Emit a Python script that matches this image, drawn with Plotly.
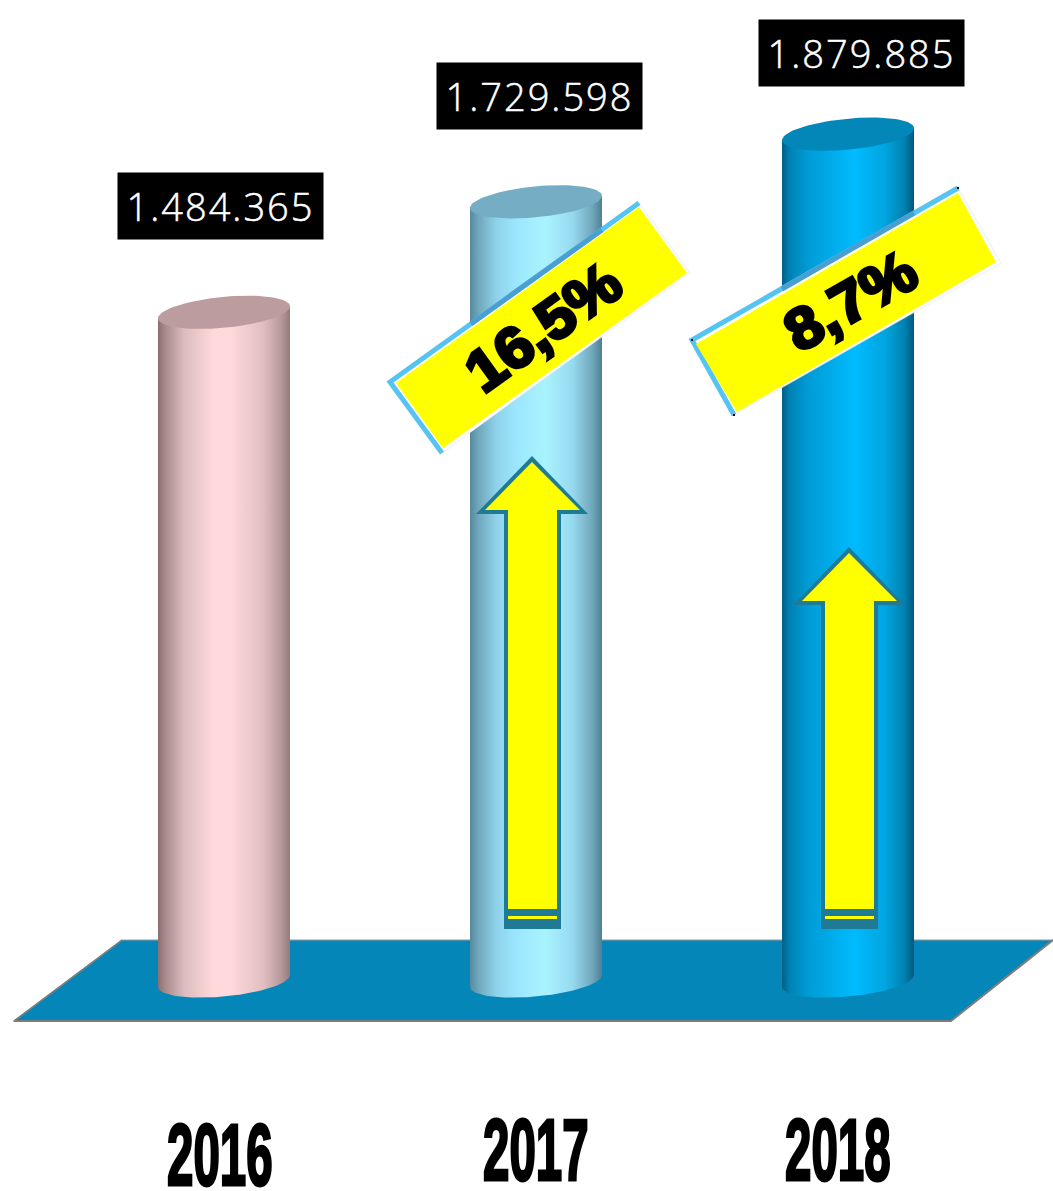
import plotly.graph_objects as go
import numpy as np

W, H = 1053, 1191

years = ["2016", "2017", "2018"]
values = [1484365, 1729598, 1879885]
growth = ["16,5%", "8,7%"]

body_scales = [
    [[0, "#8a6f70"], [0.06, "#ab8c8e"], [0.2, "#dcbcbe"], [0.42, "#ffd9dc"], [0.55, "#ffd9dc"],
     [0.8, "#e0bec0"], [0.93, "#b89a9c"], [1, "#957a7b"]],
    [[0, "#558a9e"], [0.06, "#6ea5ba"], [0.2, "#8fd2ea"], [0.35, "#9ce6fd"], [0.57, "#a9f3ff"],
     [0.78, "#96d9ef"], [0.93, "#6fa5b9"], [1, "#4f7f92"]],
    [[0, "#005f87"], [0.06, "#0082b5"], [0.2, "#009cd6"], [0.35, "#00a9e6"], [0.55, "#00bbff"],
     [0.78, "#00a5e0"], [0.93, "#0080b0"], [1, "#00587c"]],
]
cap_colors = ["#bd9c9f", "#74adc4", "#0387b8"]

PX_PER_UNIT = 4.505e-4  # pixels per unit on the value axis
BASE_PX = 981           # where zero sits
SLOT_PX = 312           # gap between cylinders
FIRST_PX = 224
HALF_W = 66 / SLOT_PX   # half a cylinder, in x units


def fx(x):
    return x / W


def fy(y):
    return 1 - y / H


def path(points, close=True):
    parts = [f"{'M' if i == 0 else 'L'} {fx(x):.5f} {fy(y):.5f}" for i, (x, y) in enumerate(points)]
    return " ".join(parts) + (" Z" if close else "")


def ellipse(i, val, t):
    """Tilted ellipse outline in data units."""
    x = i + HALF_W * np.cos(t)
    y = val + (6 * np.cos(t) + 15.5 * np.sin(t)) / PX_PER_UNIT
    return x, y


fig = go.Figure()

# --- cylinders ---
for i, val in enumerate(values):
    bx, by = ellipse(i, 0, np.linspace(0, -np.pi, 60))
    # the top edge follows the tilt so no corner sticks out past the cap
    tilt = 6 / PX_PER_UNIT
    fig.add_trace(go.Scatter(
        x=[i - HALF_W, i + HALF_W, *bx, i - HALF_W],
        y=[val - tilt, val + tilt, *by, val - tilt],
        mode="lines", line=dict(width=0), fill="toself",
        fillgradient=dict(type="horizontal", colorscale=body_scales[i]),
        name=years[i], hoverinfo="name",
    ))
    cx, cy = ellipse(i, val, np.linspace(0, 2 * np.pi, 90))
    fig.add_trace(go.Scatter(
        x=cx, y=cy, mode="lines", line=dict(width=0), fill="toself",
        fillcolor=cap_colors[i], hoverinfo="skip",
    ))

# --- floor ---
shapes = [
    dict(type="path", xref="paper", yref="paper", layer="below",
         path=path([(14, 1021), (122, 940), (1053, 940), (951, 1021)]),
         fillcolor="#0487b8", line=dict(color="#9a9a9a", width=1.2)),
    dict(type="path", xref="paper", yref="paper", layer="below",
         path=path([(14, 1021), (951, 1021), (1053, 940)], close=False),
         fillcolor="rgba(0,0,0,0)", line=dict(color="#7c7c7c", width=2)),
    dict(type="path", xref="paper", yref="paper", layer="below",
         path=path([(14, 1021), (122, 940)], close=False),
         fillcolor="rgba(0,0,0,0)", line=dict(color="#7c7c7c", width=1.5)),
]


def add_poly(points, color, close=True, line_color=None, line_width=0):
    shapes.append(dict(
        type="path", xref="paper", yref="paper", layer="above",
        path=path(points, close),
        fillcolor=color if close else "rgba(0,0,0,0)",
        line=dict(color=line_color or color, width=line_width),
    ))


# --- arrows ---
for dx, dy in [(-317, -91), (0, 0)]:
    add_poly([(849 + dx, 547 + dy), (905 + dx, 605 + dy), (878 + dx, 605 + dy), (878 + dx, 929),
              (821 + dx, 929), (821 + dx, 605 + dy), (793 + dx, 605 + dy)], "#1f7a96")
    add_poly([(849 + dx, 553 + dy), (897 + dx, 601 + dy), (874 + dx, 601 + dy), (874 + dx, 909),
              (825 + dx, 909), (825 + dx, 601 + dy), (802 + dx, 601 + dy)], "#ffff00")
    add_poly([(825 + dx, 916), (874 + dx, 916), (874 + dx, 919), (825 + dx, 919)], "#ffff00")

# --- tags ---
tags = [
    ([(390, 382), (639, 203), (690, 273), (442, 453)],
     [(396, 383), (639, 207), (687, 273), (443, 448)],
     [(471, 324), (602, 230)]),
    ([(692, 340), (958, 188), (1001, 263), (734, 415)],
     [(696, 344), (958, 193), (996, 262), (737, 412)],
     [(782, 289), (914, 213)]),
]
for outer, inner, over_bar in tags:
    add_poly(outer, "#ffffff", line_color="#cfe8df", line_width=0.6)
    add_poly([outer[3], outer[0], outer[1]], None, close=False, line_color="#55c4f2", line_width=5)
    add_poly(over_bar, None, close=False, line_color="#4a9fd0", line_width=5)
    add_poly(inner, "#ffff00")

# leftover selection dots on the second tag
for x, y in [(692, 340), (958, 188), (734, 415)]:
    add_poly([(x - 1, y - 1), (x + 1, y - 1), (x + 1, y + 1), (x - 1, y + 1)], "#000000")

annotations = []

# --- value labels ---
label_pos = [(220.5, 206), (539.5, 96), (861.5, 53)]
for (x, y), val in zip(label_pos, values):
    annotations.append(dict(
        xref="paper", yref="paper", x=fx(x), y=fy(y), showarrow=False,
        xanchor="center", yanchor="middle", width=205, height=66,
        bgcolor="#000000", borderpad=0,
        text=f"{val:,}".replace(",", "."),
        font=dict(family="Open Sans", size=38, color="#ffffff", weight=300),
    ))

# --- growth tags text ---
tag_text = [(543, 327, -35.7), (850, 300, -29.7)]
for (x, y, angle), txt in zip(tag_text, growth):
    annotations.append(dict(
        xref="paper", yref="paper", x=fx(x), y=fy(y), showarrow=False,
        xanchor="center", yanchor="middle", textangle=angle, text=txt,
        font=dict(family="Liberation Sans", size=58, color="#000000", weight=700),
    ))

# --- year labels ---
year_pos = [(219.5, 1154), (535.5, 1149), (838, 1149)]
for (x, y), yr in zip(year_pos, years):
    annotations.append(dict(
        xref="paper", yref="paper", x=fx(x), y=fy(y), showarrow=False,
        xanchor="center", yanchor="middle", text=yr,
        font=dict(family="Liberation Sans", size=88, color="#000000", weight=700),
    ))

fig.update_layout(
    width=W, height=H, autosize=False,
    margin=dict(l=0, r=0, t=0, b=0),
    paper_bgcolor="#ffffff", plot_bgcolor="#ffffff",
    showlegend=False,
    xaxis=dict(visible=False, range=[-FIRST_PX / SLOT_PX, (W - FIRST_PX) / SLOT_PX]),
    yaxis=dict(visible=False, range=[(BASE_PX - H) / PX_PER_UNIT, BASE_PX / PX_PER_UNIT]),
    shapes=shapes,
    annotations=annotations,
)

# squeeze or widen the texts by hand, svg text has no stretch option
post = """
document.body.style.margin = '0';
function stretch(t, k) {
  var b = t.getBBox(), c = b.x + b.width / 2;
  t.setAttribute('transform', 'translate(' + c + ',0) scale(' + k + ',1) translate(' + (-c) + ',0)');
}
document.querySelectorAll('.annotation-text').forEach(function (t) {
  var s = t.textContent;
  if (/^20\\d\\d$/.test(s)) {
    stretch(t, 0.54);
    t.style.stroke = '#000'; t.style.strokeWidth = '3px';
  } else if (s.indexOf('%') > -1) {
    stretch(t, 1.07);
    t.style.stroke = '#000'; t.style.strokeWidth = '3.5px';
  } else {
    t.style.letterSpacing = '2px';
    t.style.stroke = '#fff'; t.style.strokeWidth = '0.5px';
  }
});
"""
fig.write_html("out.html", post_script=post, config=dict(displayModeBar=False))
